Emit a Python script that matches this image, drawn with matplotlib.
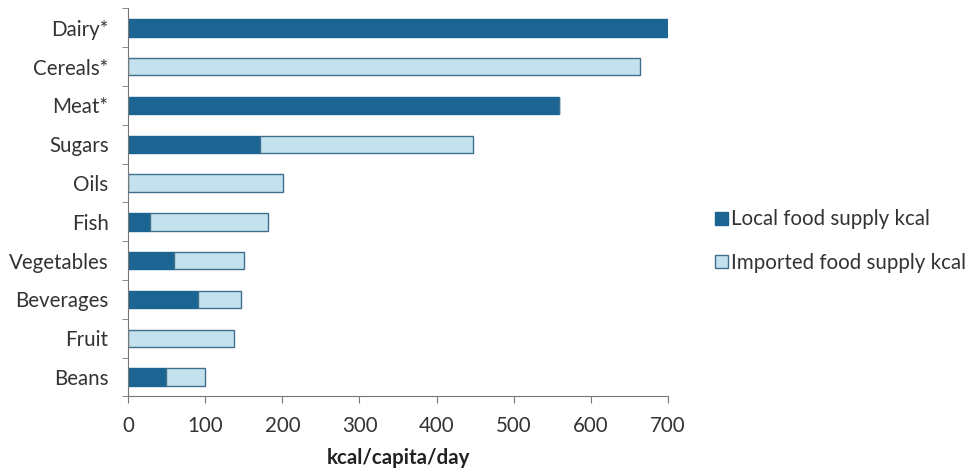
import matplotlib.pyplot as plt
import numpy as np

plt.rcParams['font.family'] = ['Lato', 'DejaVu Sans']

categories = ['Dairy*', 'Cereals*', 'Meat*', 'Sugars', 'Oils', 'Fish',
              'Vegetables', 'Beverages', 'Fruit', 'Beans']
local_kcal = [700, 0, 559, 171, 0, 29, 59, 91, 0, 49]
imported_kcal = [0, 664, 0, 276, 201, 152, 91, 56, 137, 51]

dark_blue = '#1c6593'
light_blue = '#c4e2ee'
edge = '#3f6f8c'

fig = plt.figure(figsize=(9.73, 4.72), dpi=100)
ax = fig.add_axes([0.1316, 0.16, 0.555, 0.822])

y = np.arange(len(categories))
ax.barh(y, local_kcal, height=0.45, color=dark_blue, edgecolor=dark_blue,
        linewidth=1, label='Local food supply kcal')
ax.barh(y, imported_kcal, height=0.45, left=local_kcal, color=light_blue,
        edgecolor=edge, linewidth=1, label='Imported food supply kcal')

ax.set_ylim(len(categories) - 0.5, -0.5)
ax.set_xlim(0, 700)
ax.set_xticks(range(0, 701, 100))
ax.set_yticks(y)
ax.set_yticklabels(categories)
ax.set_yticks(np.arange(-0.5, len(categories), 1), minor=True)
ax.tick_params(axis='y', which='major', length=0, labelsize=14.8, pad=14,
               labelcolor='#333333')
ax.tick_params(axis='y', which='minor', length=4, color='#777777')
ax.tick_params(axis='x', length=5, color='#777777', labelsize=14.8, pad=9,
               labelcolor='#333333')

for s in ['top', 'right']:
    ax.spines[s].set_visible(False)
for s in ['left', 'bottom']:
    ax.spines[s].set_color('#777777')

ax.set_xlabel('kcal/capita/day', fontsize=14.8, fontweight='bold', labelpad=9,
              color='#222222')

fig.legend(loc='center left', bbox_to_anchor=(0.716, 0.489), frameon=False,
           fontsize=14.8, handlelength=0.6, handleheight=0.6, handletextpad=0.15,
           labelspacing=1.15, labelcolor='#333333')

fig.savefig('out.png')
